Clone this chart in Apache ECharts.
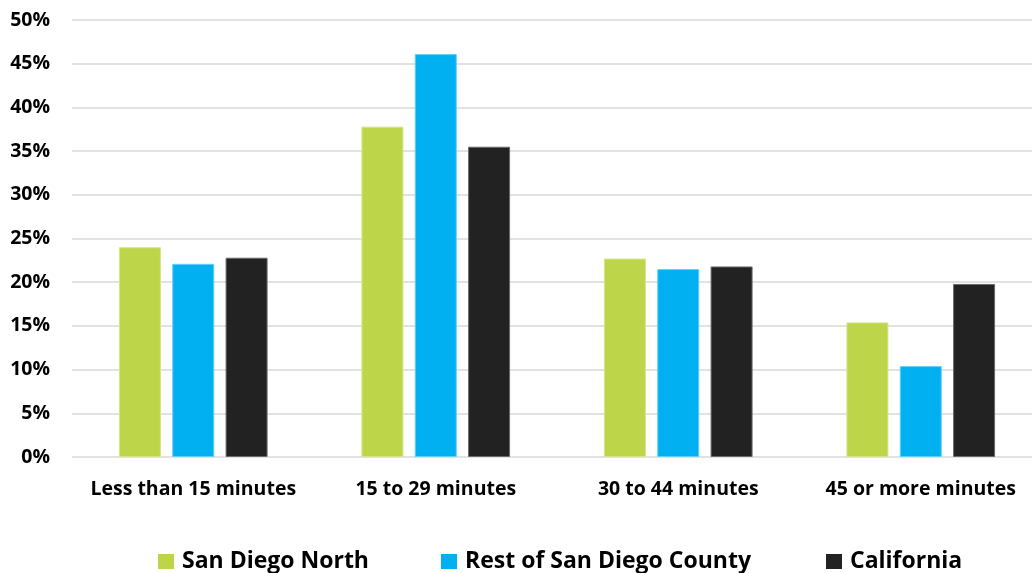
<!DOCTYPE html>
<html>
<head>
<meta charset="utf-8">
<script src="https://cdn.jsdelivr.net/npm/echarts@6/dist/echarts.min.js"></script>
<style>
  html, body { margin: 0; padding: 0; background: #fff; }
  #chart { width: 1032px; height: 573px; }
</style>
</head>
<body>
<div id="chart"></div>
<script>
// Commute time distribution (share of workers)
const categories = ['Less than 15 minutes', '15 to 29 minutes', '30 to 44 minutes', '45 or more minutes'];
const sanDiegoNorth = [24.0, 37.8, 22.7, 15.4];
const restOfCounty = [22.1, 46.1, 21.5, 10.4];
const california = [22.8, 35.5, 21.8, 19.8];
const seriesNames = ['San Diego North', 'Rest of San Diego County', 'California'];
const seriesColors = ['#BDD548', '#00B0F0', '#222222'];
const borderColors = ['#D4E68A', '#5FD0F7', '#6A6A6A'];
const yTicks = { min: 0, max: 50, interval: 5 };

const FONT = '"Open Sans"';
const chart = echarts.init(document.getElementById('chart'), null, { renderer: 'canvas' });

const seriesData = [sanDiegoNorth, restOfCounty, california];
const legendLefts = [158, 441, 826];

chart.setOption({
  animation: false,
  backgroundColor: '#ffffff',
  grid: { left: 72, top: 20, width: 970, bottom: 116, containLabel: false, outerBoundsMode: 'none' },
  legend: seriesNames.map((name, i) => ({
    data: [name],
    left: legendLefts[i],
    top: 550,
    padding: 0,
    icon: 'rect',
    itemWidth: 16,
    itemHeight: 15,
    itemGap: 0,
    itemStyle: { borderWidth: 0 },
    textStyle: { fontFamily: FONT, fontWeight: 'bold', fontSize: 23, color: '#000', padding: [0, 0, 0, 3] }
  })),
  xAxis: {
    type: 'category',
    data: categories,
    axisLine: { show: false },
    axisTick: { show: false },
    axisLabel: { fontFamily: FONT, fontWeight: 'bold', fontSize: 19.5, color: '#000', margin: 22, interval: 0 }
  },
  yAxis: {
    type: 'value',
    min: yTicks.min,
    max: yTicks.max,
    interval: yTicks.interval,
    axisLine: { show: false },
    axisTick: { show: false },
    splitLine: { lineStyle: { color: '#D9D9D9', width: 1.5 } },
    axisLabel: { fontFamily: FONT, fontWeight: 'bold', fontSize: 19.5, color: '#000', margin: 22, formatter: v => v + '%' }
  },
  series: seriesNames.map((name, i) => ({
    name,
    type: 'bar',
    data: seriesData[i],
    barWidth: 42,
    barGap: '27%',
    itemStyle: { color: seriesColors[i], borderColor: borderColors[i], borderWidth: 1 }
  }))
});
</script>
</body>
</html>
